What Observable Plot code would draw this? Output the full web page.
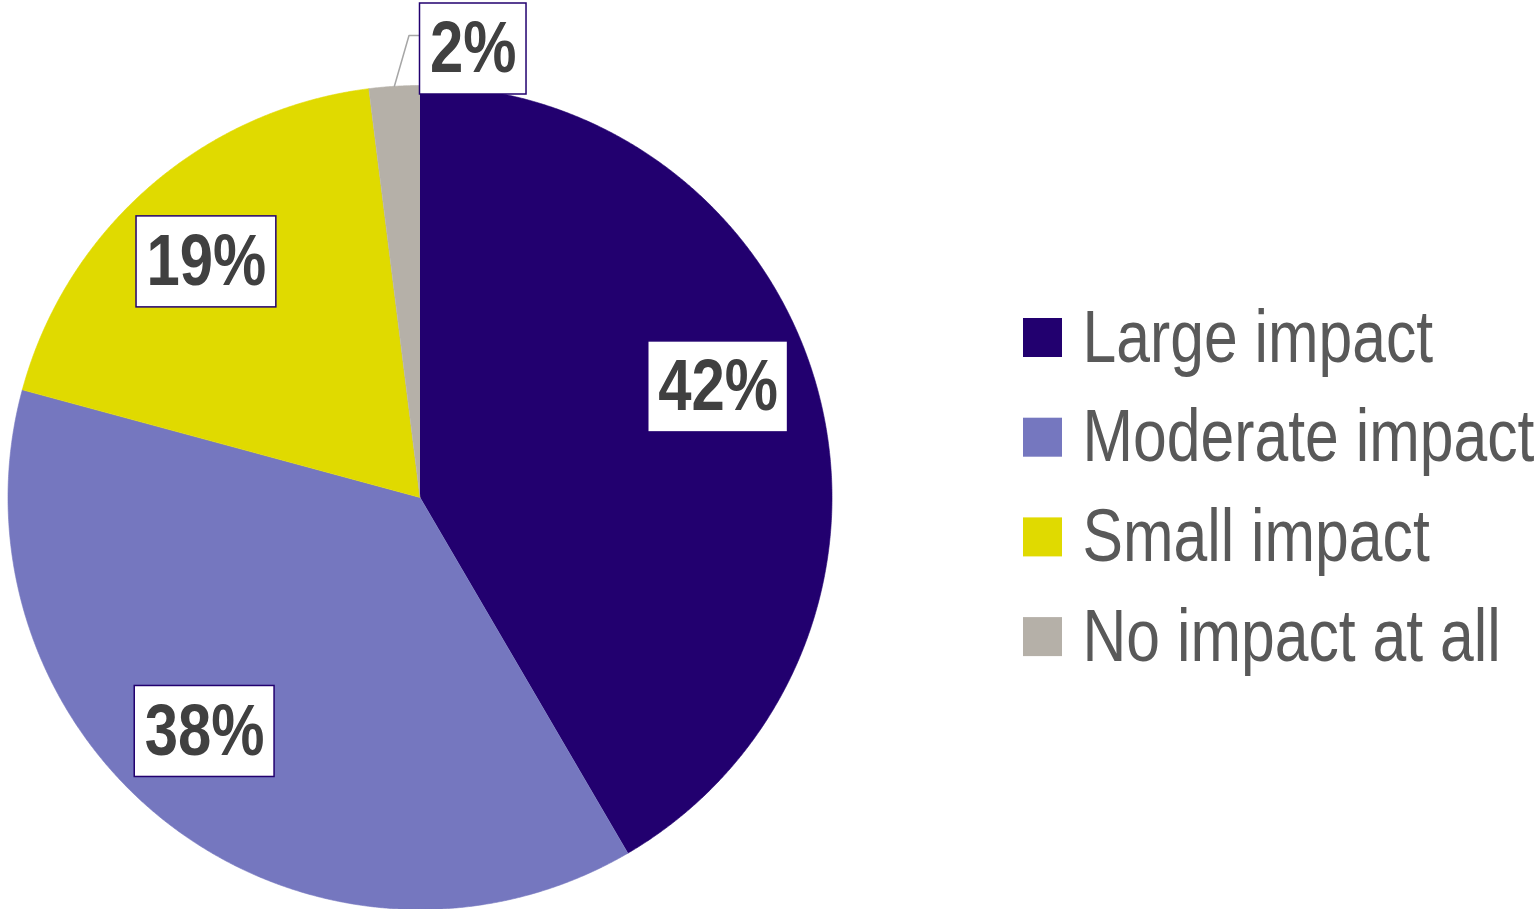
<!DOCTYPE html>
<html>
<head>
<meta charset="utf-8">
<script src="https://cdn.jsdelivr.net/npm/d3@7"></script>
<script src="https://cdn.jsdelivr.net/npm/@observablehq/plot@0.6"></script>
<style>
  html, body { margin: 0; padding: 0; background: #ffffff; }
  #chart svg { display: block; }
</style>
</head>
<body>
<div id="chart"></div>
<script>
// ---- data ----
const categories = ["Large impact", "Moderate impact", "Small impact", "No impact at all"];
const values = [42, 38, 19, 2];
const labels = ["42%", "38%", "19%", "2%"];

// ---- styles / layout ----
const palette = ["#22006f", "#7577bf", "#e0da00", "#b5b0a8"];
const W = 1536, H = 909;
const cx = 419.5, cy = 497, r = 412;
const FONT = "'Liberation Sans', Arial, sans-serif";
const NARROW = 0.82; // horizontal condensing to mimic Arial Narrow
const labelFontSize = 73;
const legendFontSize = 74;
const labelR = 318;
const labelNudgeDeg = [-5.2, 5.2, -1.2, 0];
const outsideIdx = 3;

// pie geometry from values
const arcs = d3.pie().sort(null).value(d => d)(values);
const slicePts = arcs.flatMap((a, i) => {
  const cat = categories[i];
  const pts = [{x: cx, y: cy, cat}];
  const n = Math.max(4, Math.ceil((a.endAngle - a.startAngle) / (Math.PI / 720)));
  for (let k = 0; k <= n; k++) {
    const t = a.startAngle + (a.endAngle - a.startAngle) * k / n;
    pts.push({x: cx + r * Math.sin(t), y: cy - r * Math.cos(t), cat});
  }
  return pts;
});

// text measurement
const ctx = document.createElement("canvas").getContext("2d");
function textW(s, size, weight) {
  ctx.font = `${weight} ${size}px ${FONT}`;
  return ctx.measureText(s).width * NARROW;
}

const padX = 10, boxH = 91;
const labelData = arcs.map((a, i) => {
  const w = textW(labels[i], labelFontSize, "bold") + 2 * padX;
  let x, y;
  if (i === outsideIdx) {
    x = cx + w / 2;
    y = cy - r - 36.5;
  } else {
    const mid = (a.startAngle + a.endAngle) / 2 + labelNudgeDeg[i] * Math.PI / 180;
    x = cx + labelR * Math.sin(mid);
    y = cy - labelR * Math.cos(mid);
  }
  return {label: labels[i], x, y, x1: x - w / 2, x2: x + w / 2, y1: y - boxH / 2, y2: y + boxH / 2};
});

// leader line for the small outside label
const oa = arcs[outsideIdx];
const omid = (oa.startAngle + oa.endAngle) / 2;
const ob = labelData[outsideIdx];
const leaderY = cy - r - 50;
const leader = [
  {x: cx + r * Math.sin(omid), y: cy - r * Math.cos(omid)},
  {x: ob.x1 - 11, y: leaderY},
  {x: ob.x1, y: leaderY}
];

// legend
const legX = 1023, legSq = 39, legY0 = 337.5, legStep = 99.7;
const legendData = categories.map((c, i) => ({
  cat: c,
  y: legY0 + i * legStep
}));

const chart = Plot.plot({
  width: W,
  height: H,
  margin: 0,
  x: {type: "identity", axis: null},
  y: {type: "identity", axis: null},
  color: {domain: categories, range: palette},
  style: {fontFamily: FONT, background: "#ffffff"},
  marks: [
    Plot.line(slicePts, {x: "x", y: "y", z: "cat", fill: "cat", stroke: "cat", strokeWidth: 0.6, curve: "linear"}),
    Plot.line(leader, {x: "x", y: "y", stroke: "#a6a6a6", strokeWidth: 1.5}),
    Plot.rect(labelData, {x1: "x1", x2: "x2", y1: "y1", y2: "y2", fill: "#ffffff", stroke: "#22006f", strokeWidth: 1.5}),
    Plot.text(labelData, {x: "x", y: "y", text: "label", fontSize: labelFontSize, fontWeight: "bold", fill: "#404040", fontFamily: FONT}),
    Plot.rect(legendData, {x1: legX, x2: legX + legSq, y1: d => d.y - legSq / 2, y2: d => d.y + legSq / 2, fill: "cat"}),
    Plot.text(legendData, {x: legX + legSq + 20, y: "y", text: "cat", textAnchor: "start", fontSize: legendFontSize, fill: "#595959", fontFamily: FONT})
  ]
});

// condense text horizontally around its anchor (Arial Narrow look)
d3.select(chart).selectAll("text").each(function() {
  let t = this.getAttribute("transform");
  if (!t) {
    const x = +(this.getAttribute("x") || 0), y = +(this.getAttribute("y") || 0);
    this.removeAttribute("x"); this.removeAttribute("y");
    t = `translate(${x},${y})`;
  }
  this.setAttribute("transform", `${t} scale(${NARROW},1)`);
});

document.getElementById("chart").appendChild(chart);
</script>
</body>
</html>
